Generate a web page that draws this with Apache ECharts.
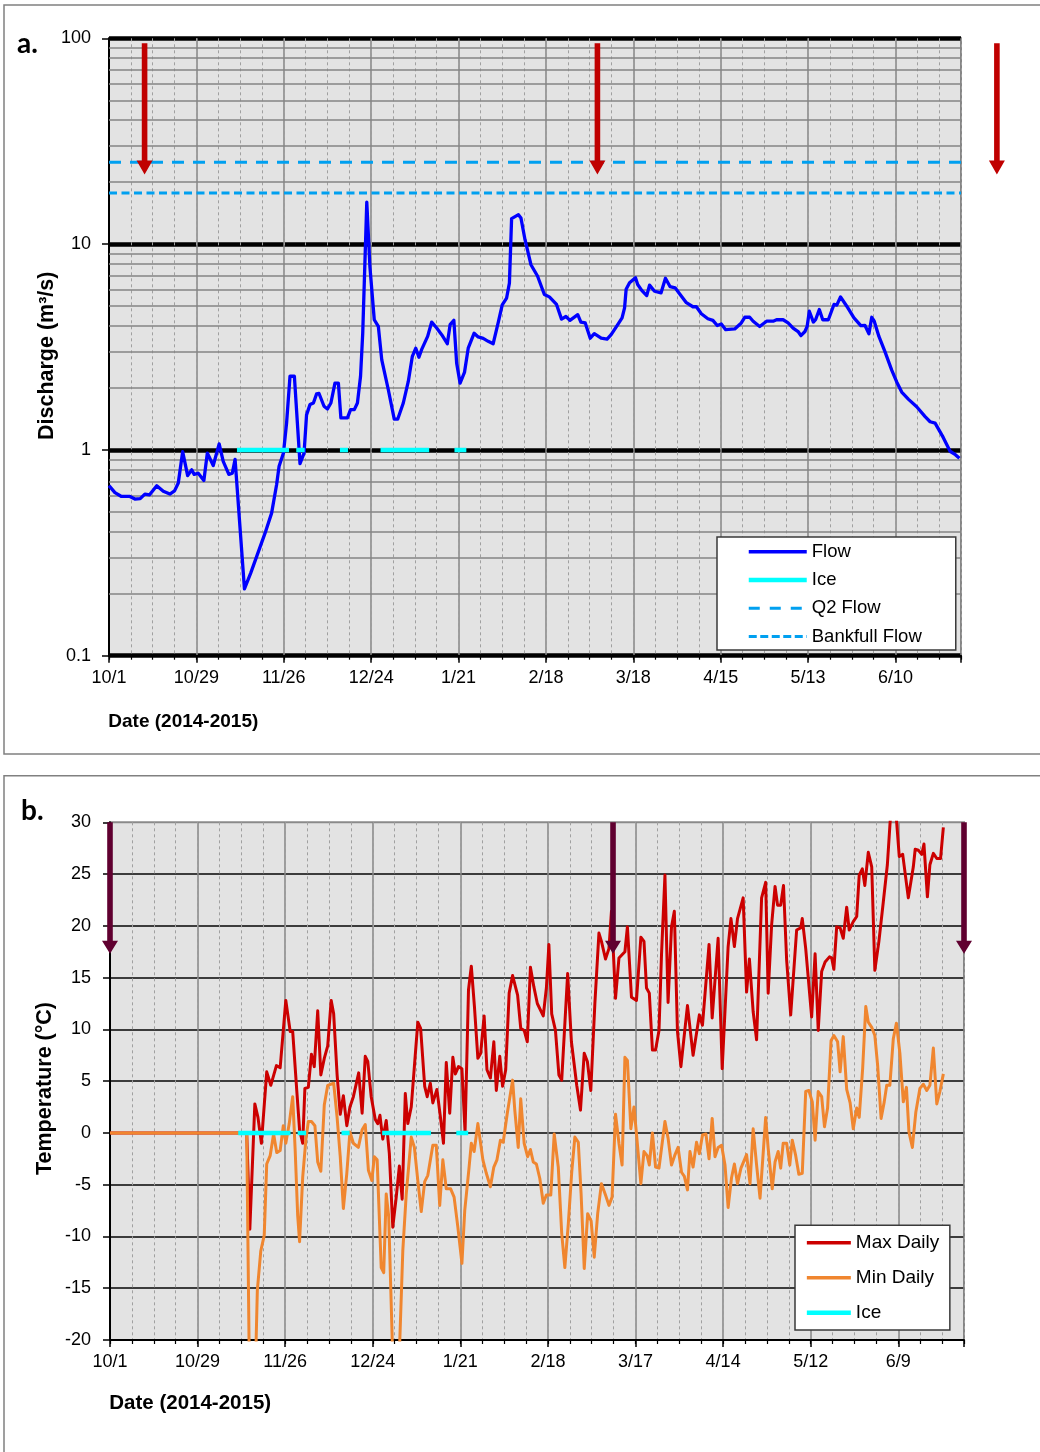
<!DOCTYPE html>
<html>
<head>
<meta charset="utf-8">
<title>Discharge and air temperature, 2014-2015</title>
<script src="https://cdn.jsdelivr.net/npm/echarts@6/dist/echarts.min.js"></script>
<style>
  html, body { margin: 0; padding: 0; background: #ffffff; }
  #chart { width: 1040px; height: 1452px; }
</style>
</head>
<body>
<div id="chart"></div>
<script>
// ---- Data (x = days since 1 Oct 2014) ----
const dayCount = 273;
const tickLabelsA = ['10/1', '10/29', '11/26', '12/24', '1/21', '2/18', '3/18', '4/15', '5/13', '6/10'];
const tickLabelsB = ['10/1', '10/29', '11/26', '12/24', '1/21', '2/18', '3/17', '4/14', '5/12', '6/9'];

const q2Flow = 25;        // m3/s
const bankfullFlow = 17.7; // m3/s

// daily discharge, m3/s
const flow = [
  [0, 0.67], [1.9, 0.62], [4, 0.594], [6.7, 0.594], [8.3, 0.577], [10, 0.58], [11.5, 0.61], [13, 0.605],
  [15.3, 0.67], [17.4, 0.63], [19.5, 0.61], [21, 0.632], [22.2, 0.69], [23.6, 0.98], [25.2, 0.75],
  [26.5, 0.80], [27.3, 0.76], [28.6, 0.77], [30.4, 0.71], [31.5, 0.965], [33.4, 0.84], [35.3, 1.07],
  [36.6, 0.88], [38.4, 0.76], [39.5, 0.77], [40.4, 0.90], [43.4, 0.211], [45.4, 0.252], [47.5, 0.309],
  [50, 0.394], [52.1, 0.493], [53.7, 0.677], [54.5, 0.832], [55.9, 0.965], [56.9, 1.35], [58, 2.28],
  [59.4, 2.28], [61.2, 0.857], [62.5, 0.965], [63.3, 1.48], [64.4, 1.66], [65.5, 1.69], [66.5, 1.87],
  [67.3, 1.88], [68.9, 1.63], [70, 1.58], [71.1, 1.69], [72.4, 2.11], [73.5, 2.11], [74.3, 1.43],
  [76.4, 1.43], [77.4, 1.57], [78.6, 1.57], [79.6, 1.69], [80.6, 2.28], [81.3, 3.69], [82.6, 16.0],
  [83.6, 7.78], [85, 4.29], [86.3, 3.98], [87.4, 2.74], [89.5, 1.96], [91.4, 1.41], [92.5, 1.41],
  [94.3, 1.69], [95.9, 2.15], [97.2, 2.85], [98.3, 3.12], [99.3, 2.82], [100.2, 3.08], [102.1, 3.56],
  [103.4, 4.18], [105, 3.91], [106.6, 3.63], [108.4, 3.28], [109.3, 4.06], [110.5, 4.26], [111.4, 2.64],
  [112.5, 2.11], [113.9, 2.38], [115.1, 3.12], [117, 3.69], [118.3, 3.54], [119.9, 3.48], [121.5, 3.37],
  [123.1, 3.28], [124.8, 4.21], [126, 5.07], [127.4, 5.47], [128.3, 6.46], [129, 13.3], [131.2, 13.9],
  [132, 13.4], [133.3, 10.5], [135.2, 7.94], [137.3, 7.0], [139.5, 5.69], [141.1, 5.54], [143.4, 5.09],
  [145, 4.32], [146.4, 4.45], [147.7, 4.26], [150.2, 4.54], [151.2, 4.18], [152.6, 4.14], [154.2, 3.49],
  [155.5, 3.67], [157.7, 3.49], [159.6, 3.45], [160.9, 3.63], [162.8, 4.02], [164.4, 4.38], [165.2, 4.9],
  [165.7, 6.03], [166.8, 6.49], [168.7, 6.87], [169.4, 6.36], [170.7, 5.96], [172.3, 5.62], [173.2, 6.32],
  [174.8, 5.9], [176.9, 5.8], [178.3, 6.82], [179.8, 6.21], [181.4, 6.13], [183, 5.69], [185, 5.19],
  [187.1, 4.96], [188.2, 4.96], [189.8, 4.59], [191.9, 4.34], [193.5, 4.26], [194.9, 4.02], [196.2, 4.09],
  [197.6, 3.84], [200.5, 3.87], [202.6, 4.14], [203.7, 4.41], [205.3, 4.41], [206.4, 4.22], [208.5, 3.98],
  [210.7, 4.22], [212.8, 4.22], [213.9, 4.29], [216, 4.29], [217.6, 4.14], [219.2, 3.91], [220.8, 3.76],
  [221.7, 3.59], [223, 3.76], [223.7, 3.98], [224.4, 4.72], [225.7, 4.18], [226.4, 4.29], [227.6, 4.81],
  [228.7, 4.29], [230.5, 4.29], [232.3, 5.09], [233.2, 5.05], [234.4, 5.54], [236.4, 4.99], [238.7, 4.38],
  [240.9, 4.02], [242.2, 4.03], [243.5, 3.67], [244.4, 4.41], [245.2, 4.22], [246.7, 3.56], [248.6, 3.01],
  [250.8, 2.44], [252.4, 2.14], [254, 1.91], [256.2, 1.76], [258.8, 1.62], [261.5, 1.45], [263.1, 1.37],
  [264.7, 1.35], [267.3, 1.15], [269.5, 0.985], [271.2, 0.948], [272.5, 0.91]
];

// ice-covered periods (start / end day)
const iceStart = [41, 60, 74, 87, 110.7];
const iceEnd = [57.7, 62.7, 76.6, 102.6, 114.5];

// daily air temperature, deg C
const maxDaily = [
  [0, 0], [43.7, 0], [44.7, -9.3], [46.3, 2.8], [47.3, 1.5], [48.4, -1.0], [50.1, 5.9], [51.4, 4.6],
  [53.2, 6.5], [54.4, 6.3], [56.2, 12.8], [57.6, 9.8], [58.4, 9.8], [59.7, 4.1], [60.6, 0.3], [61.6, -1.0],
  [62.3, 4.3], [63.4, 4.4], [64.4, 7.6], [65.3, 6.4], [66.4, 11.8], [67.4, 5.6], [68.5, 7.2], [69.6, 8.4],
  [70.7, 12.8], [71.5, 11.5], [72.6, 5.6], [73.6, 1.8], [74.6, 3.6], [75.7, 0.7], [76.7, 2.5], [77.8, 3.5],
  [79.5, 5.8], [80.6, 1.9], [81.6, 7.4], [82.4, 6.9], [83.5, 3.5], [84.8, 1.3], [85.6, 0.9], [86.3, 1.7],
  [87.2, -0.6], [88.3, 1.2], [89.3, -2.0], [90.4, -9.1], [91.5, -6.2], [92.5, -3.2], [93.4, -6.4],
  [94.4, 3.8], [95.2, 0.9], [96.3, 2.5], [97.3, 6.4], [98.4, 10.7], [99.3, 10.1], [100.6, 4.5], [101.4, 3.5],
  [102.4, 4.8], [103.2, 2.9], [104.5, 4.2], [105.6, 1.6], [106.6, -1.0], [107.5, 6.8], [108.6, 1.9],
  [109.6, 7.3], [110.4, 5.7], [111.4, 6.4], [112.5, 6.2], [113.5, 0.1], [114.6, 13.8], [115.5, 16.1],
  [116.5, 12.2], [117.6, 7.2], [118.5, 7.7], [119.6, 11.3], [120.5, 6.1], [121.6, 5.3], [122.7, 8.8],
  [123.5, 4.1], [124.6, 7.4], [125.5, 4.5], [126.5, 6.1], [127.6, 13.5], [128.7, 15.2], [130.3, 13.3],
  [131.3, 10.1], [132.4, 9.9], [133.4, 8.8], [134.4, 16.0], [135.5, 14.1], [136.6, 12.5], [138.5, 11.3],
  [139.5, 14.0], [140.3, 18.2], [141.2, 11.5], [142.4, 9.9], [143.5, 5.6], [144.4, 5.1], [146.3, 15.4],
  [147.5, 8.8], [149.2, 4.6], [150.4, 2.2], [151.6, 7.7], [152.6, 6.9], [153.7, 4.1], [155.0, 12.5],
  [156.3, 19.3], [157.1, 18.5], [158.4, 16.8], [159.5, 17.8], [160.3, 21.4], [161.6, 13.0], [162.7, 16.9],
  [164.6, 17.5], [165.4, 19.9], [166.7, 13.1], [168.3, 12.8], [169.7, 18.9], [170.7, 18.5], [171.5, 14.0],
  [172.4, 13.5], [173.4, 8.0], [174.4, 8.0], [175.5, 9.9], [176.3, 17.2], [177.4, 24.9], [178.4, 12.6],
  [179.5, 19.9], [180.4, 21.4], [181.4, 9.8], [182.5, 6.4], [184.6, 12.3], [186.4, 7.5], [188.4, 11.4],
  [189.4, 10.4], [191.5, 18.2], [192.5, 11.1], [194.4, 18.8], [195.7, 6.2], [197.6, 18.0], [198.5, 20.7],
  [199.6, 18.0], [200.6, 20.7], [202.4, 22.7], [203.5, 13.6], [204.4, 16.8], [205.6, 11.7], [206.7, 9.0],
  [208.3, 22.7], [209.6, 24.2], [210.4, 13.5], [211.5, 20.1], [212.6, 23.8], [213.4, 22.0], [214.4, 22.0],
  [215.3, 23.9], [216.3, 16.7], [217.6, 11.4], [219.5, 19.6], [220.8, 19.8], [221.3, 20.7], [222.4, 17.8],
  [224.3, 11.2], [225.4, 17.3], [226.4, 9.9], [227.5, 15.6], [228.6, 16.5], [230, 17.0], [230.7, 16.9],
  [231.4, 15.8], [232.3, 19.9], [233.4, 19.8], [234.4, 18.8], [235.5, 21.8], [236.3, 19.6], [237.6, 20.4],
  [238.7, 20.9], [239.5, 24.9], [240.5, 25.5], [241.3, 23.9], [242.4, 27.1], [243.5, 25.7], [244.5, 15.7],
  [245.8, 18.5], [247.2, 22.3], [248.5, 25.9], [249.7, 31.5], [251.1, 31.5], [252.3, 26.7], [253.4, 26.9],
  [255.2, 22.7], [256.8, 25.7], [257.4, 27.4], [258.4, 27.3], [259.5, 26.9], [260.2, 27.9], [261.3, 22.8],
  [262.1, 25.9], [263.2, 27.0], [264.3, 26.5], [265.5, 26.5], [266.4, 29.5]
];

const minDaily = [
  [0, 0], [43.7, 0], [44.6, -24], [46.4, -24], [47.1, -15.2], [48.2, -11.4], [49.3, -9.9], [50.1, -3.0],
  [51.2, -2.2], [52.3, -0.1], [53.3, -1.9], [54.4, -1.7], [55.4, 0.7], [56.2, -1.0], [57.3, 0.9], [58.4, 3.5],
  [59.2, -1.7], [60, -8.0], [60.6, -10.5], [61.6, -4.3], [62.6, -0.7], [63.4, 1.1], [64.4, 1.1], [65.5, 0.7],
  [66.4, -2.8], [67.4, -3.7], [68.5, 2.7], [69.6, 4.6], [71.5, 4.8], [72.6, 1.5], [73.6, -2.3], [74.6, -7.3],
  [75.7, -3.9], [76.7, 0.1], [77.8, -1.0], [79.4, -1.4], [80.6, 0.3], [81.6, 0.8], [82.6, -3.6], [83.7, -4.6],
  [84.5, -2.3], [85.4, -2.6], [86.7, -13.0], [87.5, -13.5], [88.3, -5.9], [89.1, -8.1], [90.6, -24],
  [92.2, -24], [93.6, -11.4], [94.7, -5.9], [96.3, -0.4], [97.3, -1.4], [98.4, -4.6], [99.5, -7.6],
  [100.6, -4.7], [101.6, -4.1], [103.2, -1.2], [104.3, -1.2], [105.4, -7.0], [106.4, -2.6], [107.5, -5.4],
  [108.9, -5.4], [110, -6.2], [111.2, -9.1], [112.5, -12.6], [113.4, -7.5], [114.7, -3.6], [115.5, -1.0],
  [116.4, -1.8], [117.6, 0.9], [119.2, -2.6], [120.3, -3.9], [121.6, -5.2], [122.7, -3.3], [123.7, -2.6],
  [124.8, -0.7], [125.7, -0.9], [127, 1.9], [128.7, 5.1], [129.4, 2.2], [130.5, -1.4], [131.3, 3.3],
  [132.4, -1.0], [133.5, -2.3], [134.4, -1.6], [135.3, -2.8], [136.3, -3.0], [137.4, -4.4], [138.5, -6.8],
  [139.5, -6.0], [140.9, -6.0], [142, -0.1], [143.3, -3.3], [144.4, -9.7], [145.4, -13.0], [146.5, -8.8],
  [147.6, -3.8], [148.6, -0.4], [149.7, -0.9], [150.6, -5.9], [151.6, -13.1], [152.7, -7.8], [153.8, -8.5],
  [154.8, -12.0], [155.9, -7.8], [157.1, -4.9], [158.4, -6.0], [159.5, -7.0], [160.5, -6.2], [161.6, 1.8],
  [162.7, -1.0], [163.7, -3.1], [164.6, 7.3], [165.4, 7.0], [166.5, 0.4], [167.5, 2.5], [168.3, -0.1],
  [169.7, -4.9], [170.7, -1.8], [171.7, -2.2], [172.4, -3.1], [173.4, 0.0], [174.4, -3.3], [175.5, -3.4],
  [177.4, 1.1], [178.4, -0.5], [179.5, -3.1], [180.5, -2.2], [181.6, -1.4], [182.7, -3.8], [183.6, -4.2],
  [184.6, -5.5], [185.4, -1.8], [186.4, -3.3], [187.5, -0.9], [188.4, -2.0], [189.4, -0.2], [190.5, -0.1],
  [191.5, -2.5], [192.5, 1.4], [193.4, -2.3], [194.4, -1.4], [195.5, -1.2], [196.6, -3.1], [197.6, -7.2],
  [198.7, -4.3], [199.6, -3.0], [200.6, -4.9], [201.7, -3.4], [203.5, -2.1], [204.6, -4.9], [205.6, 0.4],
  [206.7, -3.1], [207.8, -6.3], [209.6, 1.5], [210.4, -1.5], [211.7, -5.4], [212.6, -2.8], [213.6, -1.8],
  [214.4, -3.4], [215.2, -1.0], [216.3, -1.0], [217.3, -3.1], [218.1, -0.7], [219.2, -2.2], [220.2, -4.0],
  [221.3, -3.9], [222.4, 4.0], [223.4, 4.1], [224.5, 3.0], [225.4, -0.7], [226.4, 4.0], [227.5, 3.5],
  [228.4, 0.6], [229.4, 2.4], [230.5, 8.9], [231.4, 9.4], [232.6, 8.8], [233.4, 5.9], [234.4, 9.3],
  [235.5, 4.2], [236.6, 2.9], [237.6, 0.4], [238.7, 2.4], [239.5, 1.5], [240.6, 6.2], [241.6, 12.2],
  [242.4, 10.7], [243.5, 10.2], [244.5, 9.4], [245.4, 6.5], [246.5, 1.4], [247.5, 3.0], [248.3, 4.6],
  [249.3, 4.6], [250.4, 9.1], [251.4, 10.6], [252.5, 7.7], [253.6, 3.0], [254.6, 4.4], [255.4, 0.1],
  [256.5, -1.4], [257.6, 2.0], [258.9, 4.3], [260, 4.7], [261.1, 4.1], [262.1, 4.6], [263.2, 8.2],
  [264.3, 2.8], [265.3, 4.0], [266.4, 5.7]
];

// event arrows: [day, from value, to value]
const arrowsFlow = [[11.4, 94.6, 21.8], [156.5, 94.6, 21.8], [284.5, 94.6, 21.8]];
const arrowsTemp = [[0, 30, 17.3], [160.8, 30, 17.3], [273, 30, 17.3]];

// ---- Helpers ----
const FONT = '"Liberation Sans", Arial, sans-serif';

function dateLabel(ticks) {
  return function (v) {
    if (v % 28 !== 0) return '';
    const t = ticks[v / 28];
    return t === undefined ? '' : t;
  };
}

function iceSegments(level) {
  const pts = [];
  iceStart.forEach(function (s, i) {
    pts.push([s, level], [iceEnd[i], level], [iceEnd[i], '-']);
  });
  return pts;
}

// log-decade minor grid levels (2..9 x each decade)
const minorLevels = [];
[0.1, 1, 10].forEach(function (d) {
  for (let m = 2; m <= 9; m++) minorLevels.push(+(d * m).toPrecision(3));
});

function arrowItem(headLen) {
  return function (params, api) {
    const p0 = api.coord([api.value(0), api.value(1)]);
    const p1 = api.coord([api.value(0), api.value(2)]);
    const cx = p0[0], y0 = p0[1], y1 = p1[1];
    const hw = 2.8, hh = 8;
    return {
      type: 'polygon',
      shape: {
        points: [
          [cx - hw, y0], [cx + hw, y0], [cx + hw, y1 - headLen], [cx + hh, y1 - headLen],
          [cx, y1], [cx - hh, y1 - headLen], [cx - hw, y1 - headLen]
        ]
      },
      style: { fill: api.visual('color') }
    };
  };
}

function majorX(gridIndex, ticks) {
  return {
    type: 'value', gridIndex: gridIndex, position: 'bottom',
    min: 0, max: dayCount, interval: 28,
    axisLine: { show: true, onZero: false, lineStyle: { color: '#000', width: 2 } },
    axisTick: { show: true, inside: false, length: 7, lineStyle: { color: '#000', width: 1.5 } },
    axisLabel: { show: true, formatter: dateLabel(ticks), color: '#000', fontSize: 18, fontFamily: FONT, margin: 13 },
    splitLine: { show: true, lineStyle: { color: '#858585', width: 1.5, type: 'solid' } }
  };
}

function minorX(gridIndex) {
  return {
    type: 'value', gridIndex: gridIndex, position: 'bottom',
    min: 0, max: dayCount, interval: 7,
    axisLine: { show: false, onZero: false },
    axisTick: { show: true, inside: false, length: 4, lineStyle: { color: '#000', width: 1.2 } },
    axisLabel: { show: false },
    splitLine: { show: true, lineStyle: { color: '#a0a0a0', width: 1, type: [3, 3] } }
  };
}

function legendEntry(name, color, width, dash) {
  return {
    name: name,
    itemStyle: { color: color, opacity: 0 },
    lineStyle: { color: color, width: width, type: dash || 'solid', opacity: 1 }
  };
}

const chart = echarts.init(document.getElementById('chart'), null, { renderer: 'canvas' });

const option = {
  animation: false,
  backgroundColor: '#ffffff',
  textStyle: { fontFamily: FONT },
  grid: [
    { left: 109, top: 38.3, width: 852, height: 617.4, show: true, backgroundColor: '#e3e3e3',
      borderColor: '#8a8a8a', borderWidth: 2, containLabel: false, outerBoundsMode: 'none' },
    { left: 110, top: 822.3, width: 854, height: 517.7, show: true, backgroundColor: '#e3e3e3',
      borderColor: '#8a8a8a', borderWidth: 2, containLabel: false, outerBoundsMode: 'none' }
  ],
  xAxis: [majorX(0, tickLabelsA), minorX(0), majorX(1, tickLabelsB), minorX(1)],
  yAxis: [
    {
      type: 'log', logBase: 10, gridIndex: 0, min: 0.1, max: 100,
      axisLine: { show: true, onZero: false, lineStyle: { color: '#000', width: 2 } },
      axisTick: { show: true, inside: false, length: 7, lineStyle: { color: '#000', width: 1.5 } },
      axisLabel: { color: '#000', fontSize: 18, fontFamily: FONT, margin: 18 },
      splitLine: { show: true, lineStyle: { color: '#000', width: 4.5 } },
      minorTick: { show: false }, minorSplitLine: { show: false }
    },
    {
      type: 'value', gridIndex: 1, min: -20, max: 30, interval: 5,
      axisLine: { show: true, onZero: false, lineStyle: { color: '#000', width: 2 } },
      axisTick: { show: true, inside: false, length: 7, lineStyle: { color: '#000', width: 1.5 } },
      axisLabel: { color: '#000', fontSize: 18, fontFamily: FONT, margin: 19 },
      splitLine: { show: true, showMaxLine: false, lineStyle: { color: '#3c3c3c', width: 2 } }
    }
  ],
  legend: [
    {
      orient: 'vertical', left: 717, top: 537, z: 20,
      data: [
        legendEntry('Flow', '#0000ff', 3.5),
        legendEntry('Ice', '#00ffff', 4.5),
        legendEntry('Q2 Flow', '#00a0f0', 3, [11, 10]),
        legendEntry('Bankfull Flow', '#00a0f0', 3, [8, 3.5])
      ],
      itemWidth: 58, itemHeight: 3, itemGap: 6.3,
      padding: [3.7, 34, 2.3, 29.5],
      backgroundColor: '#ffffff', borderColor: '#3a3a3a', borderWidth: 1.5, borderRadius: 0,
      selectedMode: false,
      textStyle: { color: '#000', fontSize: 18.5, fontFamily: FONT, lineHeight: 22 }
    },
    {
      orient: 'vertical', left: 795, top: 1225.3, z: 20,
      data: [
        legendEntry('Max Daily', '#cc0000', 3.5),
        legendEntry('Min Daily', '#f0862f', 3.5),
        legendEntry('Ice', '#00ffff', 4.5)
      ],
      itemWidth: 44, itemHeight: 3, itemGap: 13,
      padding: [6.4, 10.6, 6.3, 9.6],
      backgroundColor: '#ffffff', borderColor: '#3a3a3a', borderWidth: 1.5, borderRadius: 0,
      selectedMode: false,
      textStyle: { color: '#000', fontSize: 19, fontFamily: FONT, lineHeight: 22 }
    }
  ],
  series: [
    {
      name: 'log grid', type: 'line', xAxisIndex: 0, yAxisIndex: 0, data: [], z: 1,
      silent: true,
      markLine: {
        silent: true, z: 1, zlevel: 0, symbol: ['none', 'none'], label: { show: false }, animation: false,
        lineStyle: { color: '#858585', width: 1.5, type: 'solid', opacity: 1 },
        emphasis: { disabled: true },
        data: minorLevels.map(function (v) { return { yAxis: v }; })
      }
    },
    {
      name: 'Q2 Flow', type: 'line', xAxisIndex: 0, yAxisIndex: 0, z: 2,
      data: [[0, q2Flow], [dayCount, q2Flow]], symbol: 'none', silent: true,
      color: '#00a0f0', lineStyle: { color: '#00a0f0', width: 3, type: [12, 9] }
    },
    {
      name: 'Bankfull Flow', type: 'line', xAxisIndex: 0, yAxisIndex: 0, z: 2,
      data: [[0, bankfullFlow], [dayCount, bankfullFlow]], symbol: 'none', silent: true,
      color: '#00a0f0', lineStyle: { color: '#00a0f0', width: 3, type: [8, 4.5] }
    },
    {
      name: 'Flow', type: 'line', xAxisIndex: 0, yAxisIndex: 0, z: 3,
      data: flow, symbol: 'none', silent: true,
      color: '#0000ff', lineStyle: { color: '#0000ff', width: 3.3, join: 'round' }
    },
    {
      name: 'Ice', type: 'line', xAxisIndex: 0, yAxisIndex: 0, z: 4,
      data: iceSegments(1), symbol: 'none', silent: true, connectNulls: false,
      color: '#00ffff', lineStyle: { color: '#00ffff', width: 4.5, cap: 'butt' }
    },
    {
      name: 'flow events', type: 'custom', xAxisIndex: 0, yAxisIndex: 0, z: 5,
      clip: false, silent: true, color: '#c00000', itemStyle: { color: '#c00000' },
      encode: { x: 0, y: 1 },
      data: arrowsFlow, renderItem: arrowItem(14)
    },
    {
      name: 'Max Daily', type: 'line', xAxisIndex: 2, yAxisIndex: 1, z: 3,
      data: maxDaily, symbol: 'none', silent: true,
      color: '#cc0000', lineStyle: { color: '#cc0000', width: 3, join: 'round' }
    },
    {
      name: 'Min Daily', type: 'line', xAxisIndex: 2, yAxisIndex: 1, z: 3,
      data: minDaily, symbol: 'none', silent: true,
      color: '#f0862f', lineStyle: { color: '#f0862f', width: 3, join: 'round' }
    },
    {
      name: 'Ice', type: 'line', xAxisIndex: 2, yAxisIndex: 1, z: 4,
      data: iceSegments(0), symbol: 'none', silent: true, connectNulls: false,
      color: '#00ffff', lineStyle: { color: '#00ffff', width: 4.5, cap: 'butt' }
    },
    {
      name: 'temperature events', type: 'custom', xAxisIndex: 2, yAxisIndex: 1, z: 5,
      clip: false, silent: true, color: '#600030', itemStyle: { color: '#600030' },
      encode: { x: 0, y: 1 },
      data: arrowsTemp, renderItem: arrowItem(13)
    }
  ],
  graphic: [
    { type: 'rect', z: -10, silent: true, shape: { x: 4, y: 5, width: 1100, height: 749 },
      style: { fill: 'none', stroke: '#808080', lineWidth: 1.5 } },
    { type: 'rect', z: -10, silent: true, shape: { x: 4, y: 775.7, width: 1100, height: 720 },
      style: { fill: 'none', stroke: '#808080', lineWidth: 1.5 } },
    { type: 'text', x: 17, y: 44, silent: true,
      style: { text: 'a.', font: 'bold 28px Lato, "Liberation Sans", sans-serif', fill: '#000',
               align: 'left', verticalAlign: 'middle', textAlign: 'left', textVerticalAlign: 'middle' } },
    { type: 'text', x: 21, y: 810.5, silent: true,
      style: { text: 'b.', font: 'bold 28px Lato, "Liberation Sans", sans-serif', fill: '#000',
               align: 'left', verticalAlign: 'middle', textAlign: 'left', textVerticalAlign: 'middle' } },
    { type: 'text', x: 47, y: 355.8, rotation: Math.PI / 2, silent: true,
      style: { text: 'Discharge (m³/s)', font: 'bold 21.5px ' + FONT, fill: '#000',
               align: 'center', verticalAlign: 'middle', textAlign: 'center', textVerticalAlign: 'middle' } },
    { type: 'text', x: 45, y: 1088.5, rotation: Math.PI / 2, silent: true,
      style: { text: 'Temperature (°C)', font: 'bold 21.5px ' + FONT, fill: '#000',
               align: 'center', verticalAlign: 'middle', textAlign: 'center', textVerticalAlign: 'middle' } },
    { type: 'text', x: 108.3, y: 721.7, silent: true,
      style: { text: 'Date (2014-2015)', font: 'bold 19px ' + FONT, fill: '#000',
               align: 'left', verticalAlign: 'middle', textAlign: 'left', textVerticalAlign: 'middle' } },
    { type: 'text', x: 109.3, y: 1403, silent: true,
      style: { text: 'Date (2014-2015)', font: 'bold 20.5px ' + FONT, fill: '#000',
               align: 'left', verticalAlign: 'middle', textAlign: 'left', textVerticalAlign: 'middle' } }
  ]
};

chart.setOption(option);
</script>
</body>
</html>
